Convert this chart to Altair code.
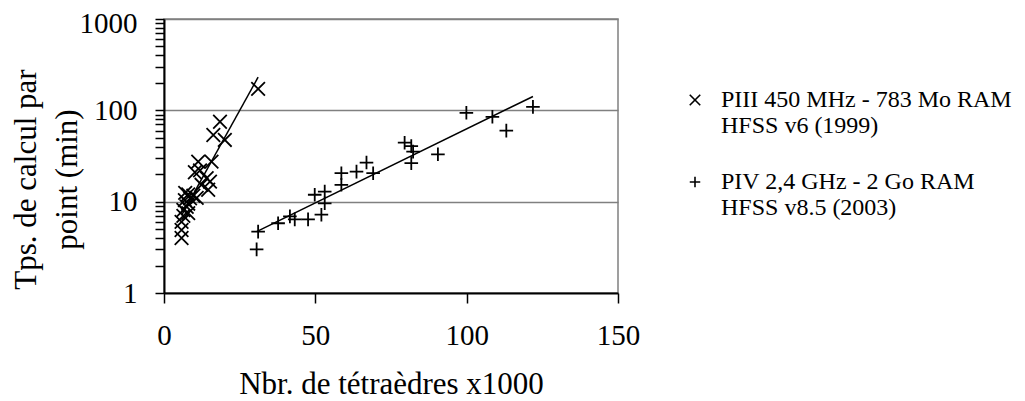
import altair as alt
import pandas as pd

# Series 1: PIII 450 MHz (x = thousands of tetrahedra, y = minutes)
S1_X = [5.8, 5.8, 5.8, 6.4, 6.4, 7.5, 8.0, 6.9, 7.0, 8.0, 8.6, 9.7, 8.0, 10.8,
        12.4, 14.6, 14.1, 15.2, 11.3, 11.9, 10.2, 15.7, 16.3, 18.5, 20.1, 31.1]
S1_Y = [4.0, 4.9, 6.0, 7.0, 8.1, 8.8, 7.5, 10.4, 12.5, 12.0, 10.9, 11.6, 9.5, 11.0,
        15.3, 13.5, 18.1, 16.6, 27.4, 22.0, 21.0, 27.4, 53.7, 75.0, 47.4, 172.0]

# Series 2: PIV 2,4 GHz
S2_X = [30.6, 31.1, 37.7, 41.6, 43.2, 47.6, 52.0, 49.8, 53.1, 53.1, 58.6, 58.6,
        63.6, 66.9, 69.1, 79.5, 81.7, 82.3, 81.7, 90.5, 99.9, 108.5, 113.1, 121.9]
S2_Y = [3.0, 4.7, 5.8, 6.9, 6.4, 6.4, 7.2, 11.9, 12.9, 9.6, 20.5, 15.3,
        21.3, 26.8, 20.5, 44.2, 40.6, 35.3, 26.4, 33.0, 94.0, 85.0, 60.0, 109.0]

SERIES = ["PIII 450 MHz - 783 Mo RAM|HFSS v6 (1999)",
          "PIV 2,4 GHz - 2 Go RAM|HFSS v8.5 (2003)"]
X_TICKS = [0, 50, 100, 150]
Y_TICKS = [1, 2, 3, 4, 5, 6, 7, 8, 9, 10, 20, 30, 40, 50, 60, 70, 80, 90,
           100, 200, 300, 400, 500, 600, 700, 800, 900, 1000]
X_TITLE = "Nbr. de tétraèdres x1000"
Y_TITLE = ["Tps. de calcul par", "point (min)"]

df = pd.DataFrame({
    "n": S1_X + S2_X,
    "t": S1_Y + S2_Y,
    "serie": [SERIES[0]] * len(S1_X) + [SERIES[1]] * len(S2_X),
})

FONT = "Liberation Serif"
XPATH = "M-1,-1L1,1M-1,1L1,-1"
PLUSPATH = "M-1,0L1,0M0,-1L0,1"

x_enc = alt.X(
    "n:Q",
    scale=alt.Scale(domain=[0, 150], nice=False, zero=False),
    axis=alt.Axis(
        values=X_TICKS, title=X_TITLE, grid=False,
        labelFont=FONT, labelFontSize=29, labelColor="black", labelPadding=18,
        labelFlush=False, labelOverlap=False,
        tickSize=10, tickColor="black", tickWidth=1.5,
        domainColor="black", domainWidth=2,
        titleFont=FONT, titleFontSize=31, titleFontWeight="normal", titleColor="black",
        titleY=100, titleBaseline="alphabetic",
    ),
)
y_enc = alt.Y(
    "t:Q",
    scale=alt.Scale(type="log", domain=[1, 1000], nice=False),
    axis=alt.Axis(
        values=Y_TICKS, title=Y_TITLE,
        labelExpr="indexof([1,10,100,1000], datum.value) >= 0 ? '' + datum.value : ''",
        labelFont=FONT, labelFontSize=29, labelColor="black", labelPadding=18,
        labelOffset={"condition": {"test": "datum.value == 1000", "value": 4}, "value": 0},
        labelFlush=False, labelOverlap=False,
        tickSize=9, tickColor="black", tickWidth=1.5,
        domainColor="black", domainWidth=2,
        grid=True, gridColor="#808080", gridWidth=1.5,
        gridOpacity={"condition": {"test": "indexof([10,100,1000], datum.value) >= 0", "value": 1}, "value": 0},
        titleFont=FONT, titleFontSize=31, titleFontWeight="normal", titleColor="black",
        titleX=-153, titleY=160, titleBaseline="top", titleAlign="center",
        titleLineHeight=41,
    ),
)

points = alt.Chart(df).mark_point(
    filled=False, color="black", strokeWidth=1.8, size=185, opacity=1
).encode(
    x=x_enc, y=y_enc,
    shape=alt.Shape(
        "serie:N",
        scale=alt.Scale(domain=SERIES, range=[XPATH, PLUSPATH]),
        legend=alt.Legend(
            title=None, orient="none", legendX=519, legendY=69,
            labelExpr="split(datum.label, '|')",
            labelFont=FONT, labelFontSize=24, labelColor="black", labelLimit=0,
            labelBaseline="middle", labelOffset=14,
            symbolSize=110, symbolStrokeWidth=1.6, symbolStrokeColor="black",
            symbolFillColor="transparent",
            rowPadding=32, padding=0,
        ),
    ),
)

trend = alt.Chart(df).transform_calculate(
    lt="log(datum.t)"
).transform_regression(
    "n", "lt", groupby=["serie"], method="linear"
).transform_calculate(
    t="exp(datum.lt)"
).mark_line(color="black", strokeWidth=1.5).encode(
    x=x_enc, y=y_enc, detail="serie:N"
)

chart = alt.layer(trend, points).properties(
    width=454, height=274,
    autosize=alt.AutoSizeParams(type="none"),
    padding={"left": 156, "top": 11, "right": 395, "bottom": 108},
).configure_view(
    stroke="#808080", strokeWidth=1.5
)

chart.save("out.html", embed_options={"renderer": "svg", "actions": False})
